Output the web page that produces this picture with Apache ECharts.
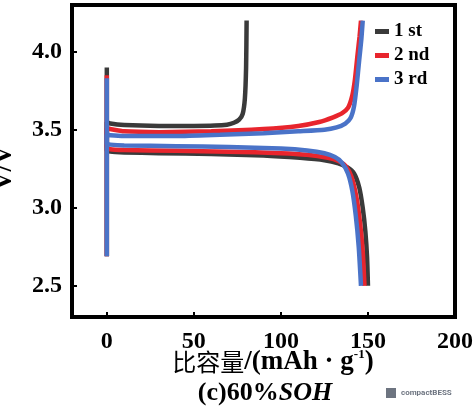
<!DOCTYPE html>
<html>
<head>
<meta charset="utf-8">
<script src="https://cdn.jsdelivr.net/npm/echarts@6/dist/echarts.min.js"></script>
<style>
html, body { margin: 0; padding: 0; background: #fff; }
#chartId { width: 476px; height: 412px; }
</style>
</head>
<body>
<div id="chartId"></div>
<script>
// 刻度
const xTicks = [0, 50, 100, 150, 200];
const yTicks = [2.5, 3.0, 3.5, 4.0];
const seriesNames = ['1 st', '2 nd', '3 rd'];

// 充电曲线 [容量, 电压]
const charge1 = [[0, 2.69], [0, 3.55], [2, 3.54], [10, 3.53], [30, 3.525], [50, 3.525], [62, 3.527], [69, 3.533], [73, 3.545], [76, 3.565], [78, 3.6], [79.3, 3.7], [80, 3.9], [80.3, 4.2]];
const charge2 = [[0, 2.69], [0, 3.51], [2, 3.505], [10, 3.49], [30, 3.485], [60, 3.49], [90, 3.505], [110, 3.525], [122, 3.55], [130, 3.58], [135, 3.605], [138.5, 3.64], [141, 3.72], [142.5, 3.82], [144, 3.98], [145.2, 4.1], [146, 4.2]];
const charge3 = [[0, 2.69], [0, 3.47], [2, 3.465], [10, 3.46], [40, 3.46], [65, 3.468], [90, 3.478], [110, 3.49], [125, 3.50], [132, 3.515], [137, 3.54], [140, 3.575], [142, 3.65], [143.5, 3.78], [145, 3.95], [146.2, 4.08], [147, 4.2]];

// 放电曲线
const discharge1 = [[0, 3.90], [0, 3.37], [2, 3.36], [10, 3.355], [30, 3.35], [60, 3.345], [90, 3.335], [111, 3.32], [125, 3.305], [133, 3.285], [138, 3.26], [142, 3.22], [145, 3.13], [147, 3.0], [148.5, 2.85], [149.5, 2.68], [150, 2.5]];
const discharge2 = [[0, 3.85], [0, 3.39], [2, 3.375], [10, 3.37], [40, 3.365], [70, 3.36], [100, 3.35], [115, 3.34], [127, 3.32], [133, 3.30], [137, 3.27], [140.5, 3.2], [143.5, 3.06], [145.5, 2.9], [147, 2.72], [148, 2.5]];
const discharge3 = [[0, 3.83], [0, 3.41], [2, 3.405], [10, 3.40], [40, 3.395], [70, 3.39], [100, 3.38], [115, 3.368], [125, 3.35], [131, 3.325], [135, 3.29], [138.5, 3.22], [141, 3.11], [143, 2.95], [144.7, 2.75], [146, 2.5]];

const chargeData = [charge1, charge2, charge3];
const dischargeData = [discharge1, discharge2, discharge3];

// 线条颜色
const lineColors = ['#3a3a3a', '#e8252d', '#4a73c8'];
const serif = 'Liberation Serif';

const myChart = echarts.init(document.getElementById('chartId'));

const getSeriesOption = () => {
  const list = [];
  seriesNames.forEach((name, i) => {
    [chargeData[i], dischargeData[i]].forEach((d) => {
      list.push({
        name: name,
        type: 'line',
        data: d,
        showSymbol: false,
        smooth: 0.2,
        lineStyle: { color: lineColors[i], width: 4.5 },
        itemStyle: { color: lineColors[i] },
      });
    });
  });
  return list;
};

const option = {
  animation: false,
  backgroundColor: '#ffffff',
  grid: {
    left: 72,
    right: 19,
    top: 5,
    bottom: 95,
    show: true,
    borderColor: '#000',
    borderWidth: 4,
  },
  legend: {
    data: seriesNames,
    orient: 'vertical',
    left: 375,
    top: 22,
    padding: 0,
    itemWidth: 14,
    itemHeight: 5,
    itemGap: 5,
    icon: 'rect',
    textStyle: { fontFamily: serif, fontWeight: 'bold', fontSize: 19, color: '#000' },
  },
  xAxis: {
    type: 'value',
    min: -20,
    max: 200,
    splitLine: { show: false },
    axisLine: { show: true, onZero: false, lineStyle: { color: '#000', width: 4 } },
    axisTick: { show: true, inside: true, length: 5, customValues: xTicks, lineStyle: { color: '#000', width: 2 } },
    axisLabel: {
      customValues: xTicks,
      margin: 13,
      fontFamily: serif,
      fontWeight: 'bold',
      fontSize: 24,
      color: '#000',
    },
  },
  yAxis: {
    type: 'value',
    min: 2.3,
    max: 4.3,
    splitLine: { show: false },
    axisLine: { show: true, onZero: false, lineStyle: { color: '#000', width: 4 } },
    axisTick: { show: true, inside: true, length: 5, customValues: yTicks, lineStyle: { color: '#000', width: 2 } },
    axisLabel: {
      customValues: yTicks,
      margin: 10,
      fontFamily: serif,
      fontWeight: 'bold',
      fontSize: 24,
      color: '#000',
      formatter: (v) => v.toFixed(1),
    },
  },
  graphic: [
    {
      type: 'text',
      x: 4,
      y: 168,
      rotation: Math.PI / 2,
      style: {
        text: 'V/V',
        fontFamily: serif,
        fontWeight: 'bold',
        fontSize: 26,
        fill: '#000',
        align: 'center',
        verticalAlign: 'middle',
      },
    },
    {
      type: 'text',
      x: 273,
      y: 362,
      style: {
        text: '{cn|比容量}{b|/(mAh · g}{sup|-1}{b|)}',
        align: 'center',
        verticalAlign: 'middle',
        rich: {
          cn: { fontFamily: 'Noto Sans CJK SC', fontSize: 24, fill: '#000' },
          b: { fontFamily: serif, fontWeight: 'bold', fontSize: 27, fill: '#000' },
          sup: { fontFamily: serif, fontWeight: 'bold', fontSize: 13, fill: '#000', padding: [0, 0, 14, 0] },
        },
      },
    },
    {
      type: 'text',
      x: 265,
      y: 393,
      style: {
        text: '{b|(c)60%}{i|SOH}',
        align: 'center',
        verticalAlign: 'middle',
        rich: {
          b: { fontFamily: serif, fontWeight: 'bold', fontSize: 26, fill: '#000' },
          i: { fontFamily: serif, fontWeight: 'bold', fontStyle: 'italic', fontSize: 26, fill: '#000' },
        },
      },
    },
    {
      type: 'rect',
      shape: { x: 386, y: 388, width: 10, height: 10 },
      style: { fill: '#6d7480' },
    },
    {
      type: 'text',
      x: 401,
      y: 393,
      style: {
        text: 'compactBESS',
        fontFamily: 'Roboto',
        fontWeight: 'bold',
        fontSize: 8,
        fill: '#6d7480',
        verticalAlign: 'middle',
      },
    },
  ],
  series: getSeriesOption(),
};

myChart.setOption(option);
</script>
</body>
</html>
